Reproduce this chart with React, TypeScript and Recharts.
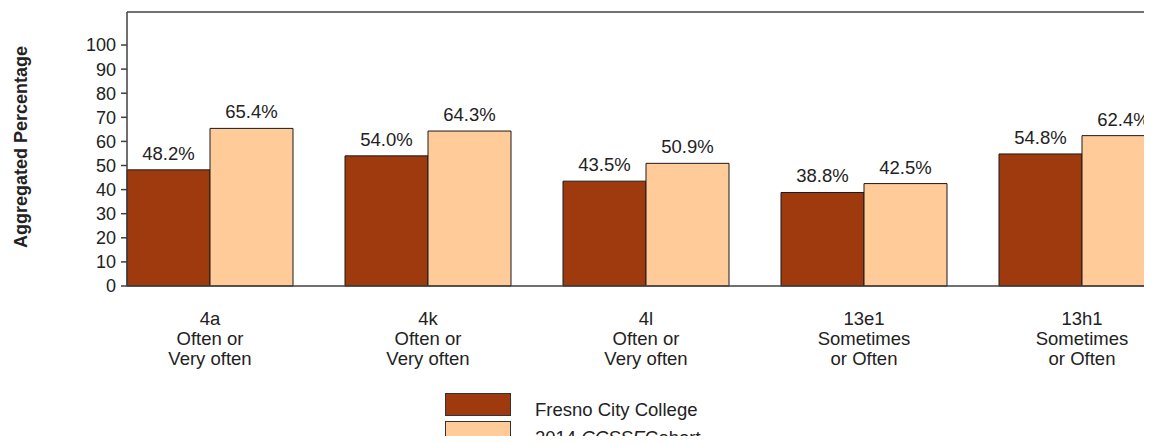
import React from 'react';
import { BarChart, Bar, XAxis, YAxis, ReferenceLine, LabelList, Legend } from 'recharts';

const itemCodes = ['4a', '4k', '4l', '13e1', '13h1'];
const responseLine1 = ['Often or', 'Often or', 'Often or', 'Sometimes', 'Sometimes'];
const responseLine2 = ['Very often', 'Very often', 'Very often', 'or Often', 'or Often'];
const fresnoValues = [48.2, 54.0, 43.5, 38.8, 54.8];
const cohortValues = [65.4, 64.3, 50.9, 42.5, 62.4];
const yTicks = [0, 10, 20, 30, 40, 50, 60, 70, 80, 90, 100];
const yMax = 113.7;

const FRESNO = '#9E3A0E';
const COHORT = '#FFCC99';
const INK = '#222222';
const AXIS = '#404040';
const FONT = '"Liberation Sans", Arial, sans-serif';

const data = itemCodes.map((code, i) => ({
  code,
  fresno: fresnoValues[i],
  cohort: cohortValues[i],
}));

const CategoryTick = (props: any) => {
  const { x, y, payload } = props;
  const i = itemCodes.indexOf(payload.value);
  return (
    <g>
      <text x={x} y={y + 39} textAnchor="middle" fontSize={18.5} fill={INK}>
        {payload.value}
      </text>
      <text x={x} y={y + 59} textAnchor="middle" fontSize={18.5} fill={INK}>
        {responseLine1[i]}
      </text>
      <text x={x} y={y + 79} textAnchor="middle" fontSize={18.5} fill={INK}>
        {responseLine2[i]}
      </text>
    </g>
  );
};

const ValueLabel = (props: any) => {
  const { x, y, width, value } = props;
  return (
    <text x={x + width / 2} y={y - 10} textAnchor="middle" fontSize={18.5} fill={INK}>
      {`${Number(value).toFixed(1)}%`}
    </text>
  );
};

const renderYTitle = () => (
  <text
    x={19}
    y={139}
    transform="rotate(-90 19 139)"
    textAnchor="middle"
    fontSize={18}
    fontWeight="bold"
    fill={INK}
  >
    Aggregated Percentage
  </text>
);

const swatch = (color: string): React.CSSProperties => ({
  position: 'absolute',
  left: 0,
  top: 0,
  width: 66,
  height: 23,
  boxSizing: 'border-box',
  border: '1.5px solid #333',
  background: color,
});

const legendText: React.CSSProperties = {
  position: 'absolute',
  left: 90,
  top: 8,
  fontSize: 18.5,
  lineHeight: '18px',
  color: INK,
  whiteSpace: 'nowrap',
};

const renderLegend = () => (
  <div style={{ position: 'relative', width: 320, height: 51, fontFamily: FONT }}>
    <div style={{ position: 'absolute', left: 0, top: 0, width: 320, height: 28 }}>
      <div style={swatch(FRESNO)} />
      <span style={legendText}>Fresno City College</span>
    </div>
    <div style={{ position: 'absolute', left: 0, top: 28, width: 320, height: 23, overflow: 'hidden' }}>
      <div style={swatch(COHORT)} />
      <span style={legendText}>
        2014 <i>CCSSE</i>Cohort
      </span>
    </div>
  </div>
);

const App: React.FC = () => {
  return (
    <div
      style={{
        width: 1144,
        height: 436,
        marginBottom: -8,
        overflow: 'hidden',
        fontFamily: FONT,
      }}
    >
      <BarChart
        width={1193}
        height={436}
        data={data}
        barGap={0}
        margin={{ top: 4, right: 10, bottom: 0, left: 0 }}
      >
        <XAxis
          dataKey="code"
          height={158}
          tickLine={false}
          tickSize={0}
          tickMargin={0}
          padding={{ left: -26, right: 0 }}
          axisLine={{ stroke: AXIS, strokeWidth: 1.5 }}
          tick={<CategoryTick />}
          interval={0}
        />
        <YAxis
          width={119}
          domain={[0, yMax]}
          ticks={yTicks}
          interval={0}
          tickSize={6}
          tickMargin={5}
          tickLine={{ stroke: AXIS, strokeWidth: 1.5 }}
          axisLine={{ stroke: AXIS, strokeWidth: 1.5 }}
          tick={{ fill: INK, fontSize: 18 }}
          label={renderYTitle}
        />
        <ReferenceLine y={yMax} stroke={AXIS} strokeWidth={1.5} />
        <Legend
          layout="horizontal"
          verticalAlign="middle"
          align="center"
          content={renderLegend}
          wrapperStyle={{ left: 437, top: 385, width: 320, height: 51 }}
        />
        <Bar
          dataKey="fresno"
          name="Fresno City College"
          fill={FRESNO}
          stroke="#1a1a1a"
          strokeWidth={1}
          barSize={83}
          isAnimationActive={false}
        >
          <LabelList dataKey="fresno" content={<ValueLabel />} />
        </Bar>
        <Bar
          dataKey="cohort"
          name="2014 CCSSE Cohort"
          fill={COHORT}
          stroke="#1a1a1a"
          strokeWidth={1}
          barSize={83}
          isAnimationActive={false}
        >
          <LabelList dataKey="cohort" content={<ValueLabel />} />
        </Bar>
      </BarChart>
    </div>
  );
};

export default App;
